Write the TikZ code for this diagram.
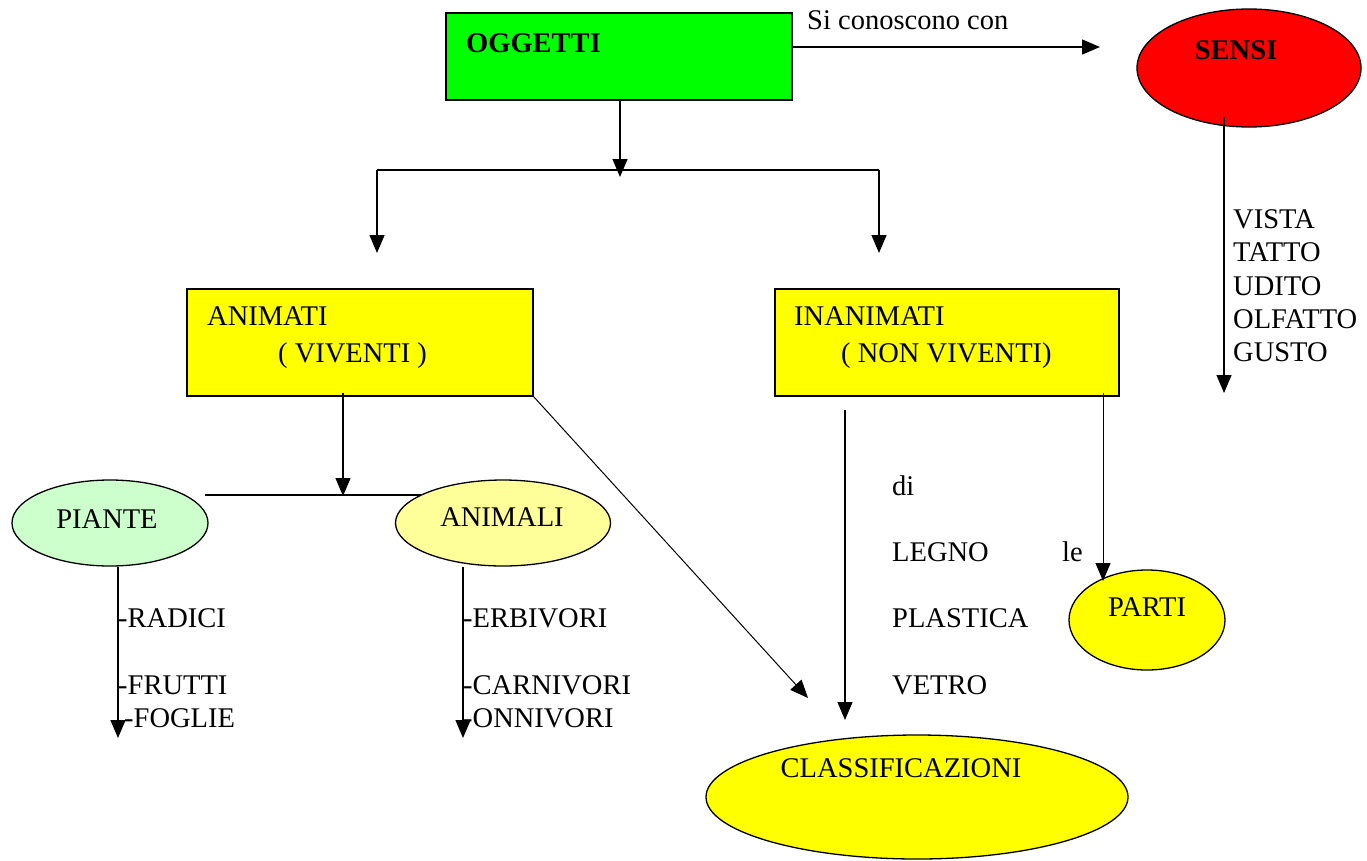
\documentclass[tikz,border=0pt]{standalone}
\usepackage{fontspec}
\setmainfont{Liberation Serif}
\usetikzlibrary{arrows.meta,shapes.geometric}
\definecolor{cgreen}{RGB}{0,255,0}
\definecolor{cred}{RGB}{255,0,0}
\definecolor{cyellow}{RGB}{255,255,0}
\definecolor{clgreen}{RGB}{204,255,204}
\definecolor{clyellow}{RGB}{255,255,153}
\begin{document}
\begin{tikzpicture}[x=1pt,y=-1pt,
  box/.style={draw,line width=1.3pt,inner sep=0,rectangle},
  ell/.style={draw,line width=1.3pt,inner sep=0,ellipse},
  txt/.style={anchor=base west,inner sep=0,font=\fontsize{28.5}{33}\selectfont},
  btxt/.style={txt,font=\fontsize{28.5}{33}\selectfont\bfseries},
  arr/.style={-{Triangle[width=15pt,length=18pt]},line width=1.3pt},
  ln/.style={line width=1.3pt}]
\useasboundingbox (0,0) rectangle (1367,860);
% nodes
\node[box,fill=cgreen,minimum width=346pt,minimum height=87pt] (ogg) at (619,56.5) {};
\node[btxt] (toggetti) at (466,52) {OGGETTI};
\node[ell,fill=cred,minimum width=224pt,minimum height=118pt] (sensi) at (1249,68) {};
\node[btxt,anchor=base] (tsensi) at (1236,59) {SENSI};
\node[box,fill=cyellow,minimum width=346pt,minimum height=107pt] (anim) at (360,342.5) {};
\node[box,fill=cyellow,minimum width=344pt,minimum height=107pt] (inan) at (947,342.5) {};
\node[txt] (tanim1) at (207,325) {ANIMATI};
\node[txt] (tanim2) at (278,362) {( VIVENTI )};
\node[txt] (tinan1) at (794,325) {INANIMATI};
\node[txt] (tinan2) at (841,362) {( NON VIVENTI)};
\node[ell,fill=clgreen,minimum width=196pt,minimum height=86pt] (piante) at (110,523) {};
\node[txt,anchor=base] (tpiante) at (107,528) {PIANTE};
\node[ell,fill=clyellow,minimum width=215pt,minimum height=86pt] (animali) at (503,523) {};
\node[txt,anchor=base] (tanimali) at (502,526) {ANIMALI};
\node[ell,fill=cyellow,minimum width=156pt,minimum height=100pt] (parti) at (1147,620) {};
\node[txt,anchor=base] (tparti) at (1147,616) {PARTI};
\node[ell,fill=cyellow,minimum width=422pt,minimum height=124pt] (class) at (917,797) {};
\node[txt,anchor=base] (tclass) at (901,777) {CLASSIFICAZIONI};
% coordinates
\coordinate (sensiarr) at (1100,47);
\coordinate (oggstart) at (792,47);
\coordinate (split) at (620,170);
\coordinate (splitL) at (377,170);
\coordinate (splitR) at (879,170);
\coordinate (endL) at (377,253);
\coordinate (endR) at (879,253);
\coordinate (sensiend) at (1224,393);
\coordinate (animdown) at (343,393);
\coordinate (animsplit) at (343,496);
\coordinate (barL) at (205,495);
\coordinate (barR) at (421,495);
\coordinate (pend) at (118,738);
\coordinate (aend) at (463,738);
\coordinate (inanstart) at (845,410);
\coordinate (classtop) at (845,720);
\coordinate (classdiag) at (808,698);
\coordinate (partitop) at (1103,581);
% connectors
\draw[arr] (oggstart) -- (sensiarr);
\node[txt] (tsi) at (807,29) {Si conoscono con};
\draw[arr] (ogg.south -| split) -- ([yshift=-7pt]split);
\draw[ln] (splitL) -- (splitR);
\draw[arr] (splitL) -- (endL);
\draw[arr] (splitR) -- (endR);
\draw[arr] (1224,117) -- (sensiend);
\node[txt] at (1233,228) {VISTA};
\node[txt] at (1233,261) {TATTO};
\node[txt] at (1233,295) {UDITO};
\node[txt] at (1233,328) {OLFATTO};
\node[txt] at (1233,361) {GUSTO};
\draw[ln] (barL) -- (barR);
\draw[arr] (animdown) -- (animsplit);
\draw[arr] (piante.south -| pend) -- (pend);
\draw[arr] (animali.south -| aend) -- (aend);
\node[txt] at (118,627) {-RADICI};
\node[txt] at (118,694) {-FRUTTI};
\node[txt] at (124,727) {-FOGLIE};
\node[txt] at (463,627) {-ERBIVORI};
\node[txt] at (463,694) {-CARNIVORI};
\node[txt] at (463,727) {-ONNIVORI};
\draw[arr,line width=1pt] (anim.south east) -- (classdiag);
\draw[arr] (inanstart) -- (classtop);
\draw[arr,line width=1pt] (1103,393) -- (partitop);
\node[txt] at (892,495) {di};
\node[txt] at (892,561) {LEGNO};
\node[txt] at (892,627) {PLASTICA};
\node[txt] at (892,694) {VETRO};
\node[txt] at (1062,561) {le};
\end{tikzpicture}
\end{document}
